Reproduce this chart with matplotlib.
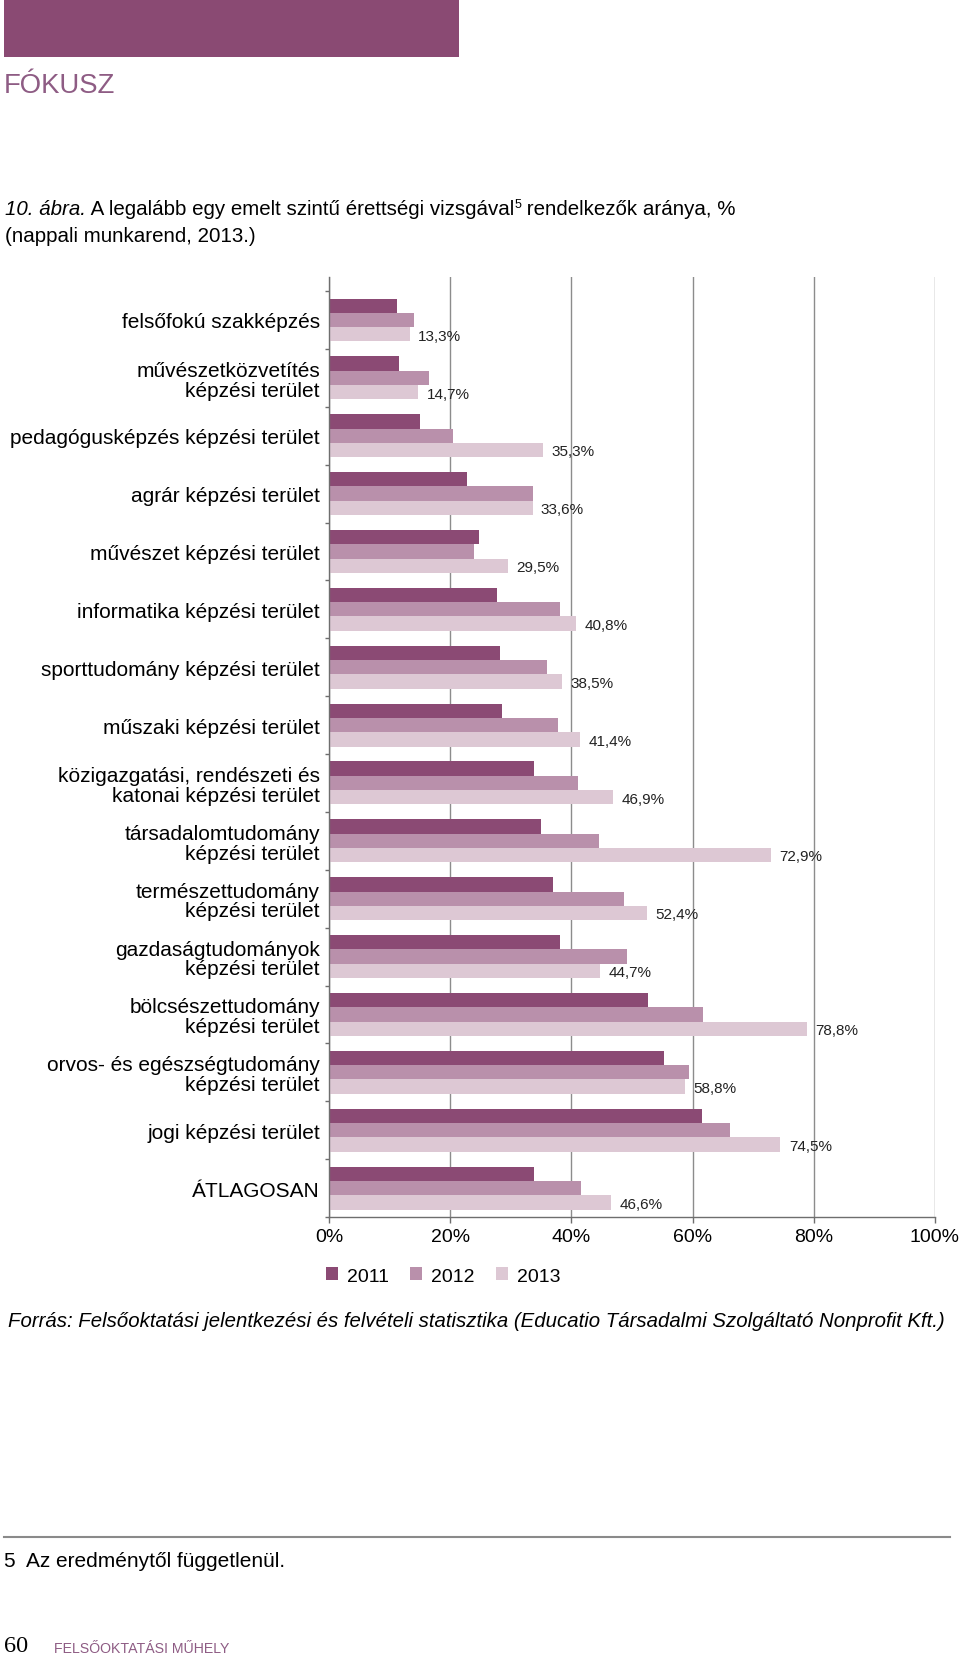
import numpy as np
import matplotlib.pyplot as plt
from matplotlib.patches import Rectangle
from matplotlib.lines import Line2D

W, H = 960, 1665
plt.rcParams['font.family'] = ['Liberation Sans', 'DejaVu Sans']

# adatok
categories = [
    "felsőfokú szakképzés",
    "művészetközvetítés\nképzési terület",
    "pedagógusképzés képzési terület",
    "agrár képzési terület",
    "művészet képzési terület",
    "informatika képzési terület",
    "sporttudomány képzési terület",
    "műszaki képzési terület",
    "közigazgatási, rendészeti és\nkatonai képzési terület",
    "társadalomtudomány\nképzési terület",
    "természettudomány\nképzési terület",
    "gazdaságtudományok\nképzési terület",
    "bölcsészettudomány\nképzési terület",
    "orvos- és egészségtudomány\nképzési terület",
    "jogi képzési terület",
    "ÁTLAGOSAN",
]
years = ["2011", "2012", "2013"]
v2011 = [11.3, 11.5, 15.0, 22.7, 24.8, 27.7, 28.2, 28.6, 33.8, 35.0, 36.9, 38.1, 52.6, 55.3, 61.6, 33.9]
v2012 = [14.0, 16.5, 20.4, 33.6, 24.0, 38.1, 35.9, 37.8, 41.1, 44.5, 48.6, 49.2, 61.7, 59.4, 66.1, 41.6]
v2013 = [13.3, 14.7, 35.3, 33.6, 29.5, 40.8, 38.5, 41.4, 46.9, 72.9, 52.4, 44.7, 78.8, 58.8, 74.5, 46.6]
colors = ["#8B4A74", "#B990AB", "#DDC8D4"]
xticks = [0, 20, 40, 60, 80, 100]
xticklabels = ["0%", "20%", "40%", "60%", "80%", "100%"]

purple = "#8A4A73"
gray = "#6e6e6e"


def fx(x):
    return x / W


def fy(y):
    return 1 - y / H


fig = plt.figure(figsize=(W / 100, H / 100), dpi=100)
r = fig.canvas.get_renderer()


def fit(t, width):
    # betűméret igazítása a kívánt szélességhez (pixelben)
    w = t.get_window_extent(r).width
    t.set_fontsize(t.get_fontsize() * width / w)


# fejléc
fig.add_artist(Rectangle((fx(4), fy(58)), fx(455), 58 / H, transform=fig.transFigure,
                         color=purple, lw=0))
fig.text(fx(4), fy(86), "FÓKUSZ", fontsize=19.8, color="#8E5C84", va="center", ha="left")


# cím, darabokban
def run(x, y, pieces):
    for s, kw, dy in pieces:
        t = fig.text(fx(x), fy(y - dy), s, va="baseline", ha="left", **kw)
        x += t.get_window_extent(r).width


tsz = 14.8
run(5, 215, [("10. ábra.", dict(fontsize=tsz, style="italic"), 0),
             (" A legalább egy emelt szintű érettségi vizsgával", dict(fontsize=tsz), 0),
             ("5", dict(fontsize=9), 7),
             (" rendelkezők aránya, %", dict(fontsize=tsz), 0)])
run(5, 242, [("(nappali munkarend, 2013.)", dict(fontsize=tsz), 0)])

# grafikon
ax = fig.add_axes([fx(329), fy(1218), 606 / W, 940 / H])
y = np.arange(len(categories))
bh = 0.247
for vals, off, c, lab in zip([v2011, v2012, v2013], [-bh, 0, bh], colors, years):
    ax.barh(y + off, vals, height=bh, color=c, label=lab, zorder=2)

for i, v in enumerate(v2013):
    ax.annotate(f"{v:.1f}".replace(".", ",") + "%", (v, y[i] + bh), xytext=(6, -1),
                textcoords="offset points", va="center", ha="left", fontsize=11, color="#222222")

ax.set_xlim(0, 100)
ax.set_ylim(15.5, -0.742)
ax.set_xticks(xticks)
ax.set_xticklabels(xticklabels, fontsize=14)
ax.set_yticks(y)
ax.set_yticklabels(categories, fontsize=15, linespacing=1.05)
ax.set_yticks(np.arange(-0.5, len(categories), 1), minor=True)
ax.tick_params(axis="y", which="major", length=0, pad=6.5)
ax.tick_params(axis="y", which="minor", length=3, width=1, color=gray)
ax.tick_params(axis="x", length=4, width=1, color=gray, pad=4)
ax.xaxis.grid(True, color="#8c8c8c", lw=1, zorder=0)
ax.set_axisbelow(True)
for s in ["top", "right"]:
    ax.spines[s].set_visible(False)
for s in ["left", "bottom"]:
    ax.spines[s].set_color(gray)
    ax.spines[s].set_linewidth(1)

fig.legend(loc="center left", bbox_to_anchor=(fx(326), fy(1277)), ncol=3, frameon=False,
           fontsize=14, handlelength=0.62, handleheight=0.62, handletextpad=0.45,
           columnspacing=1.1, borderpad=0, borderaxespad=0)

src = fig.text(fx(8), fy(1322),
               "Forrás: Felsőoktatási jelentkezési és felvételi statisztika (Educatio Társadalmi Szolgáltató Nonprofit Kft.)",
               fontsize=15, style="italic", va="center", ha="left")
fit(src, 940)

# lábjegyzet
fig.add_artist(Line2D([fx(4), fx(950)], [fy(1538), fy(1538)], transform=fig.transFigure,
                      color="#8a8a8a", lw=1.5))
fig.text(fx(4), fy(1562), "5  Az eredménytől függetlenül.", fontsize=15, va="center", ha="left")
fig.text(fx(4), fy(1647), "60", fontsize=17.5, va="center", ha="left", family="Liberation Serif")
foot = fig.text(fx(54), fy(1649), "FELSŐOKTATÁSI MŰHELY", fontsize=12.5, va="center", ha="left",
                color="#8E5C84")
fit(foot, 176)

fig.savefig("out.png", dpi=100)
